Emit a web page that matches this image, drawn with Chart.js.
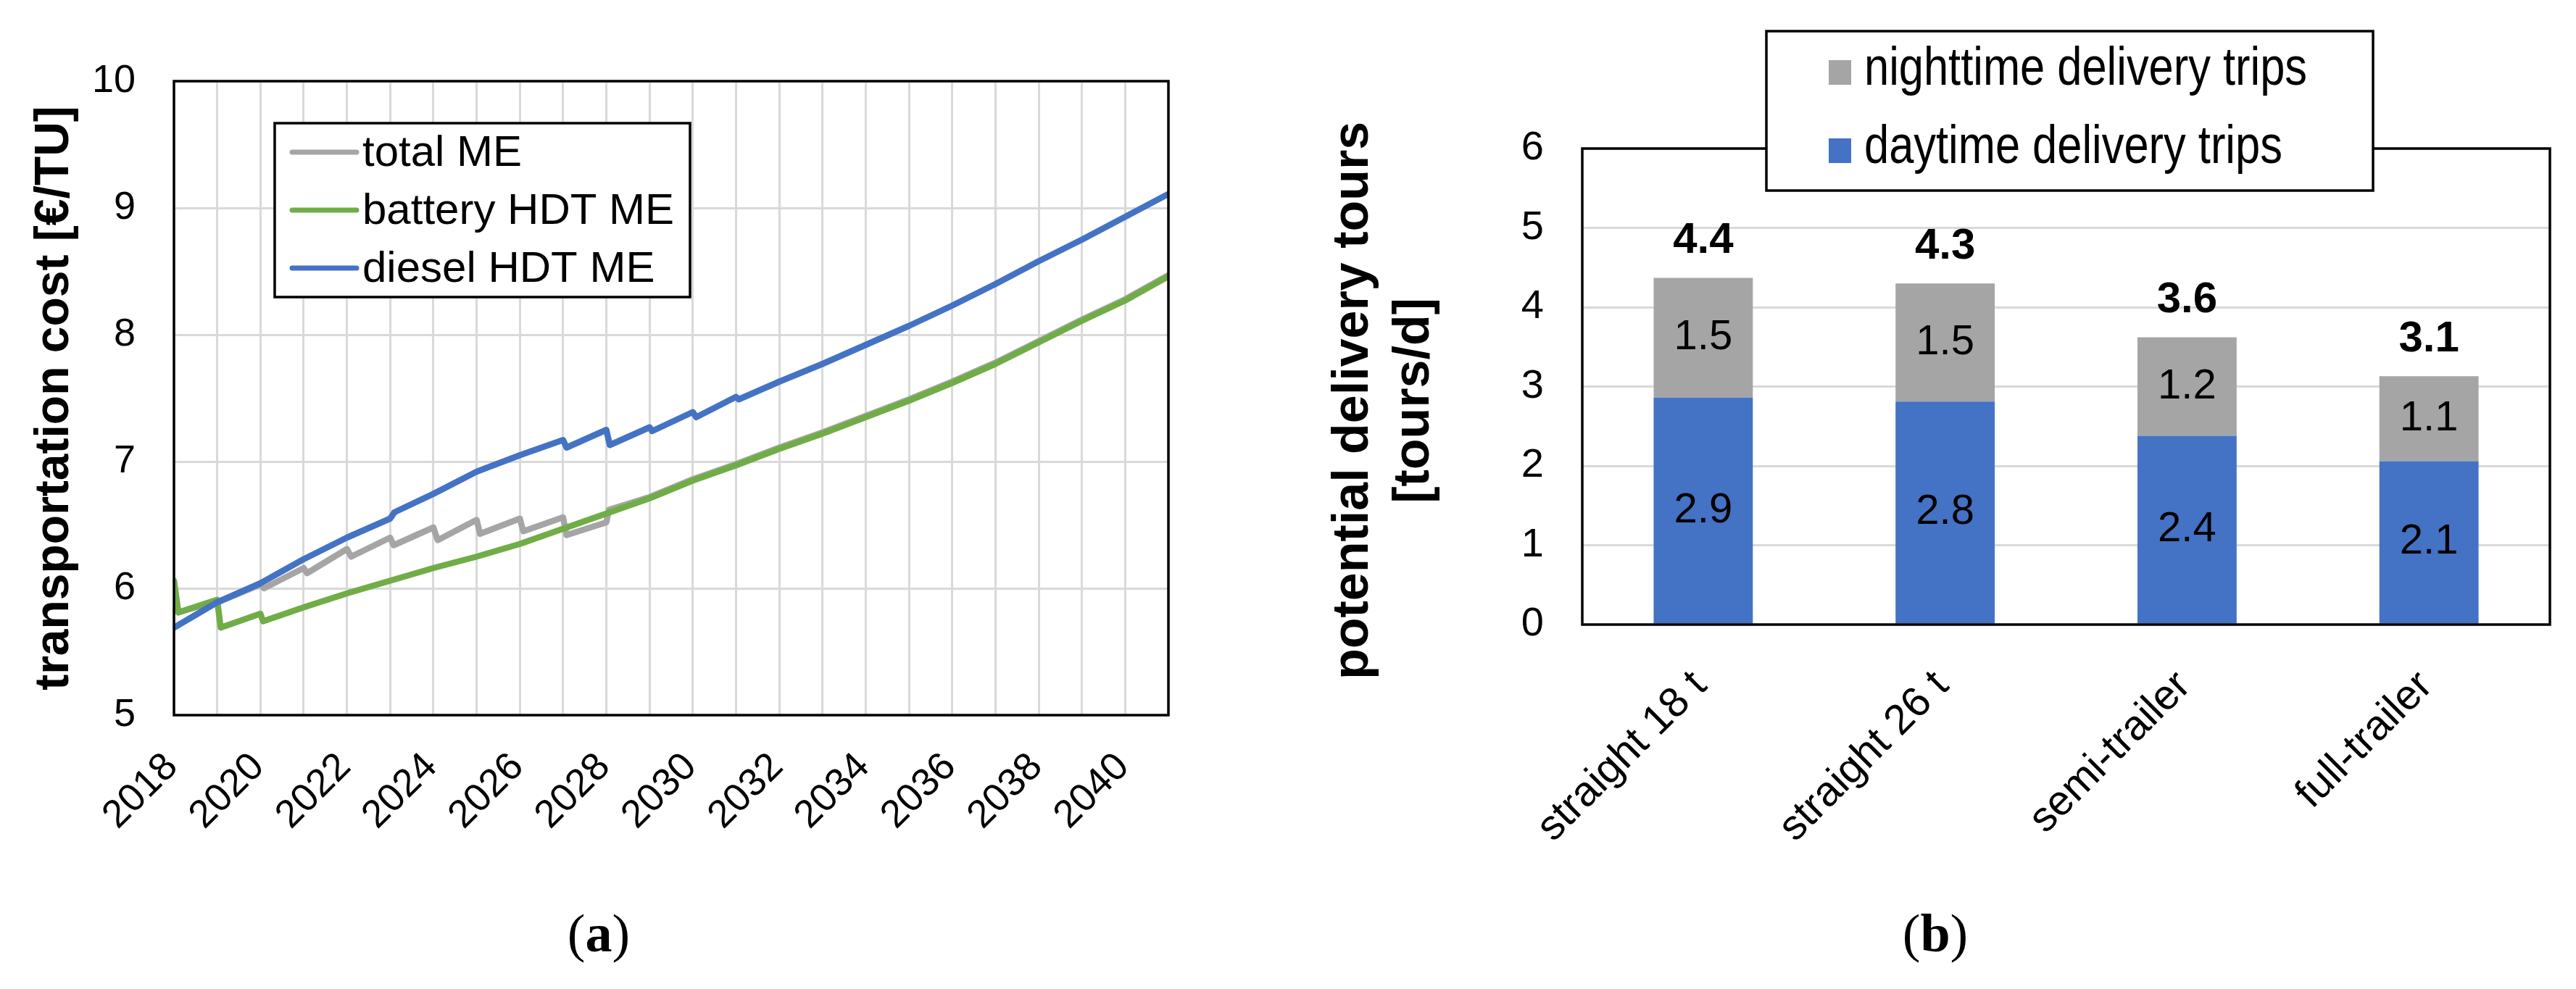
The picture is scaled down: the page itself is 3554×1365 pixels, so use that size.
<!DOCTYPE html>
<html>
<head>
<meta charset="utf-8">
<script src="https://cdn.jsdelivr.net/npm/chart.js@4.4.0/dist/chart.umd.min.js"></script>
<style>
  html, body { margin: 0; background: #fff; }
  body { width: 3554px; height: 1365px; position: relative; overflow: hidden; }
  #costChart { position: absolute; left: 0; top: 0; }
  #toursChart { position: absolute; left: 1750px; top: 0; }
  .caption {
    position: absolute; top: 1246px; transform: translateX(-50%);
    font-family: "Liberation Serif", "DejaVu Serif", serif; font-size: 74px; color: #000;
  }
</style>
</head>
<body>
<canvas id="costChart" width="1700" height="1230"></canvas>
<canvas id="toursChart" width="1804" height="1230"></canvas>
<div class="caption" style="left:826px">(<b>a</b>)</div>
<div class="caption" style="left:2670px">(<b>b</b>)</div>
<script>
// (a) transportation cost
const totalYears = [2018, 2018.1, 2019, 2019.08, 2020, 2020.08, 2021, 2021.08, 2022, 2022.1, 2023, 2023.08,
  2024, 2024.1, 2025, 2025.08, 2026, 2026.08, 2027, 2027.08, 2028, 2028.06, 2029, 2030, 2031, 2032,
  2033, 2034, 2035, 2036, 2037, 2038, 2039, 2040, 2041];
const totalCost = [6.06, 5.81, 5.90, 5.90, 6.03, 6.00, 6.16, 6.12, 6.31, 6.25, 6.40, 6.34,
  6.48, 6.38, 6.54, 6.43, 6.55, 6.45, 6.56, 6.42, 6.52, 6.62, 6.72, 6.86, 6.98, 7.11,
  7.23, 7.36, 7.49, 7.63, 7.78, 7.95, 8.12, 8.28, 8.47];

const batteryYears = [2018, 2018.1, 2019, 2019.08, 2020, 2020.06, 2021, 2022, 2023, 2024, 2025, 2026,
  2027, 2028, 2029, 2030, 2031, 2032, 2033, 2034, 2035, 2036, 2037, 2038, 2039, 2040, 2041];
const batteryCost = [6.06, 5.81, 5.91, 5.69, 5.80, 5.74, 5.85, 5.96, 6.06, 6.16, 6.25, 6.35,
  6.47, 6.59, 6.71, 6.85, 6.97, 7.10, 7.22, 7.35, 7.48, 7.62, 7.77, 7.94, 8.11, 8.27, 8.46];

const dieselYears = [2018, 2019, 2020, 2021, 2022, 2023, 2023.1, 2024, 2025, 2026, 2027, 2027.08,
  2028, 2028.08, 2029, 2029.06, 2030, 2030.08, 2031, 2031.06, 2032, 2033, 2034, 2035, 2036, 2037,
  2038, 2039, 2040, 2041];
const dieselCost = [5.69, 5.89, 6.04, 6.23, 6.40, 6.55, 6.60, 6.745, 6.92, 7.05, 7.17, 7.11,
  7.25, 7.13, 7.27, 7.24, 7.39, 7.35, 7.51, 7.49, 7.63, 7.77, 7.92, 8.07, 8.23, 8.40,
  8.58, 8.75, 8.93, 9.11];

const costSeries = ["total ME", "battery HDT ME", "diesel HDT ME"];

// (b) potential delivery tours
const vehicles = ["straight 18 t", "straight 26 t", "semi-trailer", "full-trailer"];
const daytimeTours = [2.86, 2.81, 2.38, 2.06];
const nighttimeTours = [1.51, 1.49, 1.24, 1.07];
const tourSeries = ["daytime delivery trips", "nighttime delivery trips"];

const GRAY = "#A5A5A5", GREEN = "#70AD47", BLUE = "#4472C4", GRID = "#D9D9D9";
const FONT = "'Liberation Sans', Arial, sans-serif";

Chart.defaults.font.family = FONT;
Chart.defaults.color = "#000";

const toPoints = (xs, ys) => xs.map((x, i) => ({ x: x, y: ys[i] }));

// black box round the plot area
const frame = {
  id: "frame",
  afterDatasetsDraw(chart) {
    const { ctx, chartArea: a } = chart;
    ctx.save();
    ctx.strokeStyle = "#000";
    ctx.lineWidth = 3.5;
    ctx.strokeRect(a.left, a.top, a.right - a.left, a.bottom - a.top);
    ctx.restore();
  }
};

// legend inside the plot of (a)
const lineLegend = {
  id: "lineLegend",
  afterDraw(chart) {
    const { ctx, chartArea: a } = chart;
    const x0 = a.left + 139, y0 = a.top + 58, w = 573, h = 240;
    ctx.save();
    ctx.fillStyle = "#fff";
    ctx.fillRect(x0, y0, w, h);
    ctx.strokeStyle = "#000";
    ctx.lineWidth = 3.5;
    ctx.strokeRect(x0, y0, w, h);
    ctx.font = "60px " + FONT;
    ctx.textBaseline = "middle";
    chart.data.datasets.forEach((ds, i) => {
      const y = y0 + 40 + i * 80;
      ctx.strokeStyle = ds.borderColor;
      ctx.lineWidth = 7;
      ctx.lineCap = "round";
      ctx.beginPath();
      ctx.moveTo(x0 + 24, y);
      ctx.lineTo(x0 + 113, y);
      ctx.stroke();
      ctx.fillStyle = "#000";
      ctx.fillText(ds.label, x0 + 121, y + 2);
    });
    ctx.restore();
  }
};

// legend box above the plot of (b), night first
const barLegend = {
  id: "barLegend",
  afterDraw(chart) {
    const { ctx, chartArea: a } = chart;
    const x0 = a.left + 254, y0 = a.top - 162, w = 837, h = 220;
    ctx.save();
    ctx.fillStyle = "#fff";
    ctx.fillRect(x0, y0, w, h);
    ctx.strokeStyle = "#000";
    ctx.lineWidth = 3.5;
    ctx.strokeRect(x0, y0, w, h);
    ctx.textBaseline = "middle";
    ctx.font = "74px " + FONT;
    [1, 0].forEach((d, row) => {
      const ds = chart.data.datasets[d];
      const y = y0 + 57 + row * 108;
      ctx.fillStyle = ds.backgroundColor;
      ctx.fillRect(x0 + 86, y - 17, 31, 34);
      ctx.fillStyle = "#000";
      ctx.save();
      ctx.translate(x0 + 135, y - 3);
      ctx.scale(0.83, 1); // the original legend text is condensed
      ctx.fillText(ds.label, 0, 0);
      ctx.restore();
    });
    ctx.restore();
  }
};

// values inside the segments and totals on top
const barLabels = {
  id: "barLabels",
  afterDatasetsDraw(chart) {
    const { ctx } = chart;
    ctx.save();
    ctx.fillStyle = "#000";
    ctx.textAlign = "center";
    ctx.textBaseline = "middle";
    ctx.font = "58px " + FONT;
    chart.data.datasets.forEach((ds, d) => {
      chart.getDatasetMeta(d).data.forEach((bar, i) => {
        ctx.fillText(ds.data[i].toFixed(1), bar.x, (bar.y + bar.base) / 2);
      });
    });
    ctx.font = "bold 60px " + FONT;
    chart.getDatasetMeta(1).data.forEach((bar, i) => {
      ctx.fillText((daytimeTours[i] + nighttimeTours[i]).toFixed(1), bar.x, bar.y - 51);
    });
    ctx.restore();
  }
};

new Chart(document.getElementById("costChart"), {
  type: "line",
  data: {
    datasets: [
      { label: costSeries[0], data: toPoints(totalYears, totalCost), borderColor: GRAY, order: 3 },
      { label: costSeries[1], data: toPoints(batteryYears, batteryCost), borderColor: GREEN, order: 2 },
      { label: costSeries[2], data: toPoints(dieselYears, dieselCost), borderColor: BLUE, order: 1 }
    ]
  },
  options: {
    responsive: false,
    animation: false,
    devicePixelRatio: 1,
    elements: {
      line: { borderWidth: 8.5, tension: 0, borderJoinStyle: "round", borderCapStyle: "round" },
      point: { radius: 0 }
    },
    layout: { padding: { top: 112, right: 88, left: 0, bottom: 0 } },
    plugins: { legend: { display: false }, tooltip: { enabled: false } },
    scales: {
      x: {
        type: "linear", min: 2018, max: 2041,
        ticks: {
          stepSize: 1, autoSkip: false, minRotation: 45, maxRotation: 45,
          padding: 40, labelOffset: -3, font: { size: 54 }, color: "#000",
          callback: v => (v % 2 === 0 && v <= 2040 ? String(v) : "")
        },
        grid: { color: GRID, lineWidth: 3, drawTicks: false },
        border: { display: false },
        afterFit: s => { s.height = 243; }
      },
      y: {
        min: 5, max: 10,
        ticks: { stepSize: 1, padding: 53, font: { size: 54 }, color: "#000" },
        grid: { color: GRID, lineWidth: 3, drawTicks: false },
        border: { display: false },
        title: {
          display: true, text: "transportation cost [€/TU]", color: "#000",
          font: { size: 66, weight: "bold" }, padding: { top: 36, bottom: 0 }
        },
        afterFit: s => { s.width = 240; }
      }
    }
  },
  plugins: [frame, lineLegend]
});

new Chart(document.getElementById("toursChart"), {
  type: "bar",
  data: {
    labels: vehicles,
    datasets: [
      { label: tourSeries[0], data: daytimeTours, backgroundColor: BLUE },
      { label: tourSeries[1], data: nighttimeTours, backgroundColor: GRAY }
    ]
  },
  options: {
    responsive: false,
    animation: false,
    devicePixelRatio: 1,
    layout: { padding: { top: 205, right: 36, left: 0, bottom: 0 } },
    datasets: { bar: { categoryPercentage: 1, barPercentage: 0.41 } },
    plugins: { legend: { display: false }, tooltip: { enabled: false } },
    scales: {
      x: {
        stacked: true,
        grid: { display: false },
        border: { display: false },
        ticks: { font: { size: 58 }, color: "#000", minRotation: 45, maxRotation: 45, padding: 43, labelOffset: -4 },
        afterFit: s => { s.height = 368; }
      },
      y: {
        stacked: true, min: 0, max: 6,
        ticks: { stepSize: 1, padding: 53, font: { size: 56 }, color: "#000" },
        grid: { color: GRID, lineWidth: 3, drawTicks: false },
        border: { display: false },
        title: {
          // trailing spaces push the title a little below the plot centre, as in the original
          display: true, text: ["potential delivery tours  ", "[tours/d]  "], color: "#000",
          font: { size: 70, weight: "bold" }, padding: { top: 76, bottom: 0 }
        },
        afterFit: s => { s.width = 433; }
      }
    }
  },
  plugins: [frame, barLabels, barLegend]
});
</script>
</body>
</html>
